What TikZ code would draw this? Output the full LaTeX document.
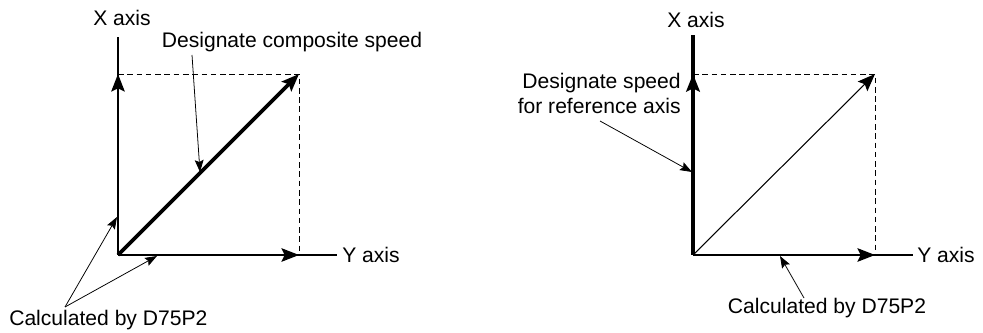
\documentclass[tikz,border=0pt]{standalone}
\usepackage{fontspec}
\setmainfont{Liberation Sans}
\usetikzlibrary{arrows.meta, positioning}
\tikzset{
  axisline/.style={line width=1.1pt},
  axisarrow/.style={line width=1.1pt, -{Stealth[length=0.44cm, width=0.34cm, inset=0.08cm]}},
  bigvec/.style={line width=2.6pt, -{Stealth[length=0.44cm, width=0.34cm, inset=0.08cm]}},
  thinvec/.style={line width=0.75pt, -{Stealth[length=0.44cm, width=0.34cm, inset=0.08cm]}},
  leader/.style={line width=0.55pt, -{Stealth[length=0.3cm, width=0.22cm, inset=0.05cm]}},
  guide/.style={line width=0.7pt, dash pattern=on 4pt off 2.6pt},
  lbl/.style={inner sep=0pt, font=\fontsize{15}{17.8}\selectfont}
}
\begin{document}
\begin{tikzpicture}[x=0.025cm, y=-0.025cm]
  \useasboundingbox (0,0) rectangle (983,333);
  % left: composite speed
  \coordinate (oA) at (118,255);
  \coordinate (xtopA) at (118,37);
  \coordinate (xtipA) at (118,74);
  \coordinate (yendA) at (337,255);
  \coordinate (ytipA) at (299,255);
  \coordinate (cornA) at (299,74);
  \draw[guide] (xtipA) -- (cornA) -- (ytipA);
  \draw[axisline] (oA) -- (xtopA);
  \draw[axisline] (oA) -- (yendA);
  \draw[axisarrow] (oA) -- (xtipA);
  \draw[axisarrow] (oA) -- (ytipA);
  \draw[bigvec] (oA) -- (cornA);
  \node[lbl] (xlabA) at (122,18) {X axis};
  \node[lbl, anchor=west] (ylabA) at (342,255) {Y axis};
  \node[lbl] (compA) at (292,42) {Designate composite speed};
  \node[lbl, anchor=west] (calcA) at (9,320) {Calculated by D75P2};
  \coordinate (compsrc) at (192,55);
  \coordinate (comptip) at (200,172);
  \coordinate (calcsrc) at (65,307);
  \coordinate (calcxA) at (117,217);
  \coordinate (calcyA) at (157,256);
  \draw[leader] (compsrc) -- (comptip);
  \draw[leader] (calcsrc) -- (calcxA);
  \draw[leader] (calcsrc) -- (calcyA);
  % right: reference axis speed
  \coordinate (oB) at (693,255);
  \coordinate (xtopB) at (693,35);
  \coordinate (xtipB) at (693,74);
  \coordinate (yendB) at (913,255);
  \coordinate (ytipB) at (875,255);
  \coordinate (cornB) at (875,74);
  \draw[guide] (xtipB) -- (cornB) -- (ytipB);
  \draw[line width=2.4pt] (oB) -- (xtopB);
  \draw[axisline] (oB) -- (yendB);
  \draw[bigvec, line width=2.4pt] (oB) -- (xtipB);
  \draw[axisarrow] (oB) -- (ytipB);
  \draw[thinvec] (oB) -- (cornB);
  \node[lbl] (xlabB) at (696,20) {X axis};
  \node[lbl, anchor=west] (ylabB) at (917,255) {Y axis};
  \node[lbl, align=right, anchor=east] (refB) at (681,93) {Designate speed\\for reference axis};
  \node[lbl] (calcB) at (827,308) {Calculated by D75P2};
  \coordinate (refsrc) at (600,121);
  \coordinate (reftip) at (692,172);
  \coordinate (calcsrcB) at (804,298);
  \coordinate (calcyB) at (780,256);
  \draw[leader] (refsrc) -- (reftip);
  \draw[leader] (calcsrcB) -- (calcyB);
\end{tikzpicture}
\end{document}
